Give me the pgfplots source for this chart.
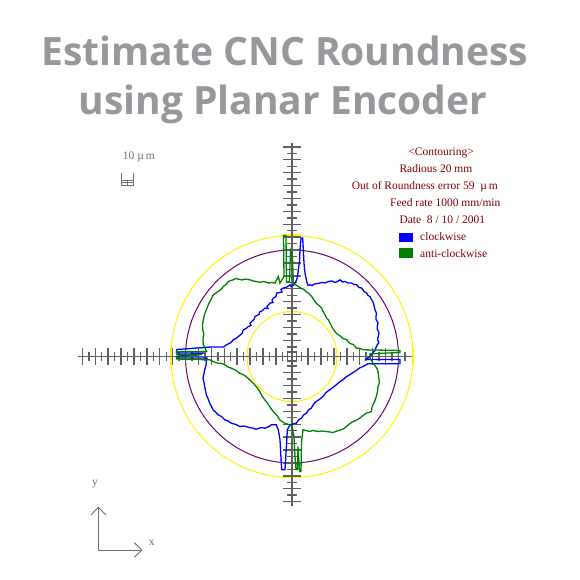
\documentclass[border=0pt]{standalone}
\usepackage{pgfplots}
\pgfplotsset{compat=1.18}
\usepackage{fontspec}
\setmainfont{Liberation Serif}
\newfontfamily\titlefont{Open Sans}
\definecolor{titlegray}{RGB}{150,152,155}
\definecolor{darkred}{RGB}{128,0,0}
\definecolor{axisgray}{RGB}{96,96,96}
\definecolor{purp}{RGB}{110,0,110}
\definecolor{cwblue}{RGB}{0,0,255}
\definecolor{acwgreen}{RGB}{0,128,0}
\definecolor{iconGray}{RGB}{110,110,110}
\begin{document}
\begin{tikzpicture}
\begin{axis}[scale only axis, width=580bp, height=580bp,
  xmin=-292, xmax=288, ymin=-223.5, ymax=356.5, hide axis, clip=false]
% title
\node[anchor=base, text=titlegray, font=\titlefont\bfseries\fontsize{39bp}{47bp}\selectfont] at (axis cs:-7,290.5) {Estimate CNC Roundness};
\node[anchor=base, text=titlegray, font=\titlefont\bfseries\fontsize{39bp}{47bp}\selectfont] at (axis cs:-9,241.5) {using Planar Encoder};
% circles
\draw[yellow, line width=1bp] (axis cs:0,0) circle[radius=121];
\draw[purp, line width=1bp] (axis cs:0,0) circle[radius=106.5];
\draw[yellow, line width=1bp] (axis cs:0,0) circle[radius=45];
\draw[yellow, line width=2bp] (axis cs:-9,121) -- (axis cs:9,121);
\draw[yellow, line width=2bp] (axis cs:-9,-121) -- (axis cs:9,-121);
\draw[yellow, line width=2bp] (axis cs:-121,-9) -- (axis cs:-121,9);
\draw[yellow, line width=2bp] (axis cs:121,-9) -- (axis cs:121,9);
% cross axes
\draw[axisgray, line width=1.6bp] (axis cs:-214,0) -- (axis cs:120,0);
\draw[axisgray, line width=1.6bp] (axis cs:0,-150) -- (axis cs:0,213.5);
\draw[axisgray, line width=1.4bp] (axis cs:-4.5,-4.5) rectangle (axis cs:4.5,4.5);
\pgfplotsinvokeforeach{1,...,32}{
  \draw[axisgray, line width=1.4bp] (axis cs:{-(#1+0.5)*6.45},{-ifthenelse(mod(#1,2)==0,8.7,4.7)}) -- (axis cs:{-(#1+0.5)*6.45},{ifthenelse(mod(#1,2)==0,8.7,4.7)});
  \draw[axisgray, line width=1.4bp] (axis cs:{-ifthenelse(mod(#1,2)==0,8.7,4.7)},{(#1+0.5)*6.45}) -- (axis cs:{ifthenelse(mod(#1,2)==0,8.7,4.7)},{(#1+0.5)*6.45});
}
\pgfplotsinvokeforeach{1,...,17}{
  \draw[axisgray, line width=1.4bp] (axis cs:{(#1+0.5)*6.45},{-ifthenelse(mod(#1,2)==0,8.7,4.7)}) -- (axis cs:{(#1+0.5)*6.45},{ifthenelse(mod(#1,2)==0,8.7,4.7)});
}
\pgfplotsinvokeforeach{1,...,22}{
  \draw[axisgray, line width=1.4bp] (axis cs:{-ifthenelse(mod(#1,2)==0,8.7,4.7)},{-(#1+0.5)*6.45}) -- (axis cs:{ifthenelse(mod(#1,2)==0,8.7,4.7)},{-(#1+0.5)*6.45});
}
% clockwise (blue)
\addplot[cwblue, line width=1.3bp, mark=none] coordinates {
(77.7,0) (80,2) (81,4) (83,6) (84,9) (85.3,11.7) (86.8,14) (85.5,17) (86.3,20) (87,24) (85.3,27)
(85.3,30) (86,34) (84,37) (84,40) (84.5,43) (83,46.7) (82,51) (80.7,55) (79.5,57) (78,60)
(76,61) (74.7,63.4) (72,65) (69.7,68.4) (67,69) (64.7,71.7) (62,72) (59.7,73.4) (56,73.5) (53,75)
(50.5,74.5) (48,76.7) (45.5,75) (43,74) (40,75.5) (36.3,75) (33,73.5) (29.7,74) (26,73) (23,72.7)
(20,71) (18,71.7) (16,71) (14.7,75) (13,83.3) (12,93.4) (11.3,106.7) (10.7,118.4) (9,118.4) (8,106.7)
(7.5,95) (6.3,86.7) (5.5,80) (4.7,76.7) (2,71.7) (-1,70) (-2,71.7) (-5,69.5) (-8.7,68.4) (-11,67)
(-10,64.5) (-15.3,63.4) (-16,60) (-18.7,58.4) (-20,56) (-19,54) (-22,53.4) (-25,50) (-24,48)
(-27,48.4) (-30,45.5) (-32,45) (-33,42) (-37,40) (-38,37) (-40.3,35) (-42,33) (-41,31) (-43.7,30)
(-46,28) (-48.7,26.7) (-50,23) (-53.7,20) (-56,18) (-58.7,16.7) (-61,14) (-65.3,11.7) (-68.7,9.4)
(-82,9.4) (-115.5,7) (-115.5,3.5) (-88,3.5) (-115.5,0) (-115.5,-1.5)
(-85,-1.5) (-85.7,-5) (-86,-9) (-87.3,-13.3) (-88,-17) (-89,-21.7) (-88,-26) (-87.3,-30)
(-86.5,-34) (-85.7,-38.3) (-84,-42) (-82.3,-46.7) (-80.5,-50) (-79,-53.3) (-76,-56) (-74,-58.3)
(-70.5,-60) (-67.3,-63.3) (-64,-64.5) (-60.7,-66.7) (-56,-68) (-52.3,-70) (-48,-69.5) (-44,-70.7)
(-40,-71.5) (-35.7,-72.7) (-31,-71) (-27.3,-71.7) (-23,-70) (-20.7,-68.3) (-15.7,-68.3)
(-13.7,-73.3) (-12,-83.3) (-11.3,-96.6) (-10.3,-113.3)
(-7,-113.3) (-6,-96.6) (-5,-80) (-4.7,-73.3) (-2,-68.3) (1,-67.5) (4.3,-66.7) (7,-63) (9.3,-61.7)
(12,-58) (14.3,-56.7) (17,-53) (19.3,-51.7) (22,-47) (24.3,-45) (28,-42.5) (31,-40) (34,-36)
(37.7,-33.3) (41,-31) (44.3,-28.3) (48,-25) (51,-23.3) (54,-20.5) (57.7,-18.3) (61,-16) (64.3,-14)
(67.5,-11.5) (71,-10) (76,-7.3) (108,-7.3) (108,-3) (74,-3) (77.7,0)
};
% anti-clockwise (green)
\addplot[acwgreen, line width=1.3bp, mark=none] coordinates {
(78,-1.6) (78,2.7) (108,4) (108,6) (71.3,6.7) (68,8) (64.7,8.4) (61.3,12) (58,13) (54.7,16.7)
(51,18) (48,20.7) (45,22.5) (43,25) (41,27.5) (39.7,30) (38,33.5) (36.3,36.7) (34.5,38.5) (33,41.7)
(31,45) (29.7,48.4) (26.3,51.7) (24.5,53) (23,55) (21,58) (19.7,60) (16.3,63.4) (14,65) (11.3,67.4)
(8.5,68.5) (6.3,70) (1.3,73.4) (0.5,100) (-1.5,106) (-2.5,75) (-5.5,74) (-6,121) (-8.5,121) (-8,80)
(-12,73.4) (-13.7,80) (-17,73.4) (-20,74) (-23.7,73.4) (-26,74.5) (-28.7,75) (-32,74) (-35.3,75)
(-39,75.5) (-42,76.7) (-44.5,77) (-47,77.4) (-50,76.5) (-53.7,77.4) (-56,78) (-58.7,76.7)
(-61,76) (-63.7,75) (-66,72) (-68.7,70) (-71,67) (-73.7,65) (-76,63.5) (-78.7,61.7) (-81,57)
(-83.7,51.7) (-85.5,47) (-87,43.4) (-88,40) (-88.7,36.7) (-89.5,32) (-89.3,26.7) (-88.2,23)
(-88.7,20) (-89,16) (-88.7,11.7) (-87,8.4) (-85.3,5) (-115.5,5) (-115.5,2)
(-90,2) (-115.5,-1) (-115.5,-2.5) (-82.3,-3.3) (-78,-5.5) (-74,-6.7) (-70,-7) (-67.3,-8.3)
(-64,-10.5) (-60.7,-11.7) (-56,-14) (-52.3,-16.7) (-48,-18.5) (-44,-21.7) (-40.5,-25) (-37.3,-28.3)
(-35,-31) (-32.3,-35) (-30,-39.5) (-27.3,-43.3) (-25,-46) (-22.3,-50) (-20,-53.5) (-17.3,-56.7)
(-15,-59) (-12.3,-63.3) (-10,-65) (-7.3,-66.7) (-2.3,-68.3) (0,-70) (2,-80) (3,-100) (4,-113)
(5.5,-113) (6,-90) (7.5,-115) (9,-115) (9.5,-85) (11,-73.3) (14,-74) (17.7,-75) (21,-74) (26,-75)
(30,-74.5) (34.3,-75) (38,-75.5) (41,-76) (45,-74.5) (49.3,-73.3) (52,-72) (54.3,-70) (58,-67)
(61,-65) (64,-64) (67.7,-61.7) (71,-59) (74.3,-56.7) (77,-56) (79.3,-55) (80,-51) (81,-48.3)
(83,-44) (84.3,-40) (85.5,-35) (86,-30) (87.5,-26) (87,-23.3) (86.5,-19) (86,-15) (85,-12)
(83.7,-10) (81,-6.7) (78,-1.6)
};
% info text
\node[anchor=base west, text=darkred, font=\fontsize{11.5bp}{13bp}\selectfont, inner sep=0pt] at (axis cs:116.3,200.8) {<Contouring>};
\node[anchor=base west, text=darkred, font=\fontsize{11.5bp}{13bp}\selectfont, inner sep=0pt] at (axis cs:107.3,184.2) {Radious 20 mm};
\node[anchor=base west, text=darkred, font=\fontsize{11.5bp}{13bp}\selectfont, inner sep=0pt] at (axis cs:59.7,166.5) {Out of Roundness error 59\enspace µ\,m};
\node[anchor=base west, text=darkred, font=\fontsize{11.5bp}{13bp}\selectfont, inner sep=0pt] at (axis cs:98,149.8) {Feed rate 1000 mm/min};
\node[anchor=base west, text=darkred, font=\fontsize{11.5bp}{13bp}\selectfont, inner sep=0pt] at (axis cs:107.3,133.2) {Date\ \ 8 / 10 / 2001};
\fill[cwblue] (axis cs:107,123.8) rectangle (axis cs:120.7,114.8);
\fill[acwgreen] (axis cs:107,108.2) rectangle (axis cs:120.7,98.2);
\node[anchor=base west, text=darkred, font=\fontsize{11.5bp}{13bp}\selectfont, inner sep=0pt] at (axis cs:128,115.5) {clockwise};
\node[anchor=base west, text=darkred, font=\fontsize{11.5bp}{13bp}\selectfont, inner sep=0pt] at (axis cs:128,98.8) {anti-clockwise};
% scale label and icon
\node[anchor=base west, text=iconGray, font=\fontsize{11.5bp}{13bp}\selectfont, inner sep=0pt] at (axis cs:-169.3,196.5) {10 µ\,m};
\draw[iconGray, line width=0.9bp] (axis cs:-171,183.2) -- (axis cs:-171,171.5) -- (axis cs:-158.7,171.5) -- (axis cs:-158.7,183.2);
\draw[iconGray, line width=0.9bp] (axis cs:-171,175.8) -- (axis cs:-158.7,175.8);
\draw[iconGray, line width=0.9bp] (axis cs:-171,173.8) -- (axis cs:-158.7,173.8);
\draw[iconGray, line width=0.9bp] (axis cs:-164.7,175.8) -- (axis cs:-164.7,171.5);
% xy orientation arrows
\draw[iconGray, line width=0.9bp] (axis cs:-193.7,-150.8) -- (axis cs:-193.7,-193.5) -- (axis cs:-150.3,-193.5);
\draw[iconGray, line width=0.9bp] (axis cs:-201,-158.5) -- (axis cs:-193.7,-150.8) -- (axis cs:-186,-158.5);
\draw[iconGray, line width=0.9bp] (axis cs:-157.7,-186.2) -- (axis cs:-150.3,-193.5) -- (axis cs:-157.7,-200.8);
\node[text=iconGray, font=\fontsize{11.5bp}{13bp}\selectfont, inner sep=0pt] at (axis cs:-197,-127.5) {y};
\node[text=iconGray, font=\fontsize{11.5bp}{13bp}\selectfont, inner sep=0pt] at (axis cs:-140.3,-186.8) {x};
\end{axis}
\pgfresetboundingbox
\path (current axis.south west) rectangle (current axis.north east);
\end{tikzpicture}
\end{document}
